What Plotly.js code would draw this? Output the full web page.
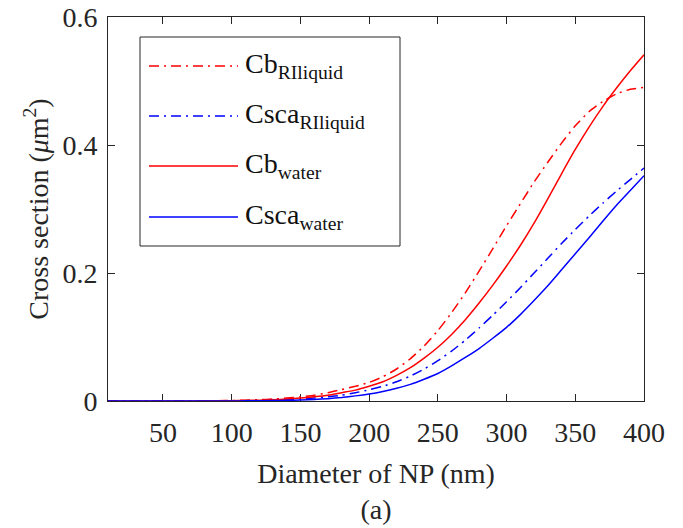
<!DOCTYPE html>
<html>
<head>
<meta charset="utf-8">
<script src="https://cdn.plot.ly/plotly-3.0.1.min.js"></script>
</head>
<body style="margin:0;padding:0;background:#fff">
<div id="chart" style="width:683px;height:528px"></div>
<script>
// Diameter of NP (nm)
const diameter = [10,20,30,40,50,60,70,80,90,100,110,120,130,140,150,160,170,180,190,200,
                  210,220,230,240,250,260,270,280,290,300,310,320,330,340,350,360,370,380,390,400];

// Cross sections (um^2)
const cbRIliquid = [0,0,0,0,0,0.0001,0.0002,0.0003,0.0005,0.0008,0.0013,0.002,0.003,0.0045,0.0065,0.009,0.013,0.018,0.023,0.029,
                    0.038,0.05,0.066,0.086,0.11,0.138,0.169,0.203,0.238,0.274,0.308,0.342,0.373,0.403,0.43,0.452,0.468,0.48,0.487,0.49];
const cscaRIliquid = [0,0,0,0,0,0,0.0001,0.0001,0.0002,0.0003,0.0005,0.0008,0.0012,0.002,0.003,0.0045,0.0065,0.009,0.013,0.0175,
                      0.023,0.03,0.039,0.05,0.063,0.078,0.095,0.114,0.134,0.155,0.177,0.2,0.223,0.246,0.268,0.289,0.309,0.328,0.346,0.364];
const cbWater = [0,0,0,0,0,0,0.0001,0.0002,0.0003,0.0005,0.0008,0.0012,0.002,0.003,0.0045,0.0065,0.009,0.013,0.017,0.023,
                 0.03,0.04,0.052,0.067,0.084,0.104,0.127,0.153,0.181,0.211,0.243,0.278,0.316,0.355,0.393,0.428,0.46,0.489,0.516,0.541];
const cscaWater = [0,0,0,0,0,0,0,0,0.0001,0.0001,0.0002,0.0004,0.0007,0.001,0.0016,0.0025,0.0037,0.0055,0.008,0.011,
                   0.015,0.02,0.026,0.034,0.043,0.055,0.068,0.082,0.098,0.115,0.135,0.157,0.18,0.205,0.23,0.255,0.281,0.306,0.329,0.352];

const seriesNames = ['Cb<sub>RIliquid</sub>','Csca<sub>RIliquid</sub>','Cb<sub>water</sub>','Csca<sub>water</sub>'];
const seriesValues = [cbRIliquid, cscaRIliquid, cbWater, cscaWater];

const xTickVals = [50,100,150,200,250,300,350,400];
const yTickVals = [0,0.2,0.4,0.6];
const yTickText = ['0','0.2','0.4','0.6'];

const FONT = 'Times New Roman';
const INK = '#262626';
const dashDot = '10px,5px,2px,5px';
const colors = ['#ff0000','#0000ff','#ff0000','#0000ff'];
const dashes = [dashDot, dashDot, 'solid', 'solid'];

const traces = seriesValues.map((vals,i)=>({
  type:'scatter', mode:'lines', x: diameter, y: vals, name: seriesNames[i], showlegend:false,
  line:{color:colors[i], width:1.5, dash:dashes[i], shape:'spline', smoothing:0.5}
}));

// Manual legend (long line samples as in the reference), paper coordinates
const plotL = 108, plotW = 536, plotB = 401, plotH = 384;
const px = v => (v - plotL) / plotW;
const py = v => (plotB - v) / plotH;
const legendRowsY = [66, 116, 166, 217];

const shapes = [{
  type:'rect', xref:'paper', yref:'paper', x0:px(140), x1:px(400), y0:py(246), y1:py(37),
  fillcolor:'#fff', line:{color:INK, width:1}, layer:'above'
}];
const annotations = [];
legendRowsY.forEach((ry,i)=>{
  shapes.push({type:'line', xref:'paper', yref:'paper', x0:px(149), x1:px(238), y0:py(ry), y1:py(ry),
               line:{color:colors[i], width:1.5, dash:dashes[i]}, layer:'above'});
  annotations.push({xref:'paper', yref:'paper', x:px(243), y:py(ry-1), xanchor:'left', yanchor:'middle',
                    text:seriesNames[i], showarrow:false, font:{family:FONT, size:28, color:'#111'}});
});

const axisCommon = {
  showgrid:false, zeroline:false, showline:true, linecolor:INK, linewidth:1,
  mirror:'allticks', ticks:'inside', ticklen:7, tickwidth:1, tickcolor:INK,
  tickfont:{family:FONT, size:28, color:INK}, layer:'below traces'
};

const layout = {
  width:683, height:528,
  margin:{l:108, r:39, t:17, b:127, pad:0},
  paper_bgcolor:'#fff', plot_bgcolor:'#fff',
  showlegend:false,
  xaxis: Object.assign({}, axisCommon, {
    range:[10,400], tickvals:xTickVals, ticklabelstandoff:6,
    title:{text:'Diameter of NP (nm)<br>(a)', font:{family:FONT, size:28, color:INK}, standoff:16}
  }),
  yaxis: Object.assign({}, axisCommon, {
    range:[0,0.6], tickvals:yTickVals, ticktext:yTickText, ticklabelstandoff:4,
    title:{text:'Cross section (<i>μ</i>m<sup>2</sup>)', font:{family:FONT, size:28, color:INK}, standoff:5}
  }),
  shapes: shapes,
  annotations: annotations
};

Plotly.newPlot('chart', traces, layout, {staticPlot:true});
</script>
</body>
</html>
